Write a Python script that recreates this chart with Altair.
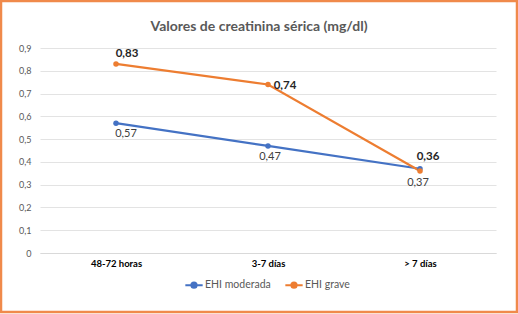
import altair as alt
import pandas as pd

categories = ["48-72 horas", "3-7 días", "> 7 días"]
moderada = [0.57, 0.47, 0.37]
grave = [0.83, 0.74, 0.36]
series_names = ["EHI moderada", "EHI grave"]
colors = ["#4472C4", "#ED7D31"]

rows = []
for c, v in zip(categories, moderada):
    rows.append({"cat": c, "val": v, "serie": "EHI moderada"})
for c, v in zip(categories, grave):
    rows.append({"cat": c, "val": v, "serie": "EHI grave"})
df = pd.DataFrame(rows)
df["lbl"] = df["val"].map(lambda v: f"{v:.2f}".replace(".", ","))

FONT = "Lato"

base = alt.Chart(df).encode(
    x=alt.X("cat:N", sort=categories, title=None,
            scale=alt.Scale(type="point", padding=0.5),
            axis=alt.Axis(labelAngle=0, labelFont=FONT, labelFontSize=9.5,
                          labelFontWeight="bold", labelColor="#000000",
                          labelPadding=5, ticks=False, domain=True,
                          domainColor="#d9d9d9", grid=False)),
    y=alt.Y("val:Q", title=None,
            scale=alt.Scale(domain=[0, 0.9], nice=False),
            axis=alt.Axis(values=[0, 0.1, 0.2, 0.3, 0.4, 0.5, 0.6, 0.7, 0.8, 0.9],
                          labelExpr="replace(format(datum.value, '.1~f'), '.', ',')",
                          labelFont=FONT, labelFontSize=9, labelColor="#595959",
                          labelPadding=9, ticks=False, domain=False,
                          grid=True, gridColor="#e3e3e3", gridWidth=1)),
)

line = base.mark_line(strokeWidth=2.2, point=alt.OverlayMarkDef(size=30, filled=True)).encode(
    color=alt.Color("serie:N", scale=alt.Scale(domain=series_names, range=colors),
                    legend=alt.Legend(title=None, orient="none", direction="horizontal",
                                      legendX=144, legendY=227,
                                      symbolType="M-1,0L1,0M-0.3,0A0.3,0.3,0,1,0,0.3,0A0.3,0.3,0,1,0,-0.3,0Z",
                                      symbolSize=300, symbolStrokeWidth=2,
                                      labelFont=FONT, labelFontSize=10.5, labelColor="#595959",
                                      columnPadding=10, labelOffset=1))
)

# label offsets (style only), keyed by series and category
offsets = {
    "EHI grave": {"48-72 horas": (11, -10), "3-7 días": (17, 2), "> 7 días": (8, -14)},
    "EHI moderada": {"48-72 horas": (10, 11), "3-7 días": (2, 11), "> 7 días": (-2, 14)},
}

text_layers = []
for s in series_names:
    for c in categories:
        dx, dy = offsets[s][c]
        bold = s == "EHI grave"
        t = base.transform_filter(
            (alt.datum.serie == s) & (alt.datum.cat == c)
        ).mark_text(
            dx=dx, dy=dy, align="center", baseline="middle", font=FONT,
            fontSize=11.5 if bold else 11, fontWeight="bold" if bold else "normal",
            color="#262626" if bold else "#404040",
        ).encode(text="lbl:N")
        text_layers.append(t)

border = alt.Chart(pd.DataFrame({"k": [0]})).mark_rect(
    fill="transparent", stroke="#F08A4B", strokeWidth=2.5
).encode(
    x=alt.value(-39), x2=alt.value(477), y=alt.value(-47), y2=alt.value(264)
)

chart = alt.layer(line, *text_layers, border).properties(
    width=456, height=205,
    title=alt.TitleParams("Valores de creatinina sérica (mg/dl)", font=FONT,
                          fontSize=14, fontWeight="bold", color="#595959",
                          anchor="middle", dx=-9, offset=14, dy=48),
    autosize=alt.AutoSizeParams(type="none"),
    padding={"left": 40, "top": 48, "right": 22, "bottom": 61},
    background="white",
).configure_view(stroke=None)

chart.save("out.html", embed_options={"renderer": "svg", "actions": False})
